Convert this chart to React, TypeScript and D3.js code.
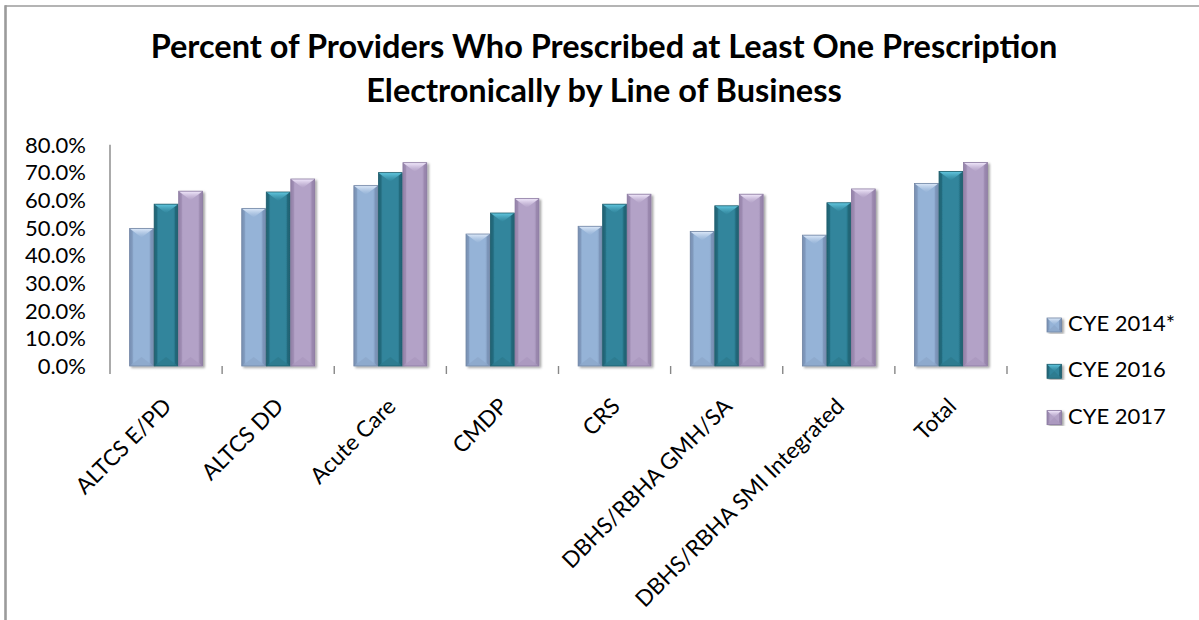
import React from "react";
import * as d3 from "d3";

const categories = [
  "ALTCS E/PD",
  "ALTCS DD",
  "Acute Care",
  "CMDP",
  "CRS",
  "DBHS/RBHA GMH/SA",
  "DBHS/RBHA SMI Integrated",
  "Total",
];
const seriesNames = ["CYE 2014*", "CYE 2016", "CYE 2017"];
const cye2014 = [49.7, 56.9, 65.2, 47.7, 50.5, 48.6, 47.3, 66.0];
const cye2016 = [58.5, 62.9, 69.9, 55.3, 58.5, 57.9, 59.0, 70.3];
const cye2017 = [63.2, 67.6, 73.5, 60.5, 62.1, 62.1, 64.0, 73.6];
const yTicks = [0, 10, 20, 30, 40, 50, 60, 70, 80];
const titleLines = [
  "Percent of Providers Who Prescribed at Least One Prescription",
  "Electronically by Line of Business",
];

const seriesValues = [cye2014, cye2016, cye2017];

// base, edge, top-bevel and bottom-bevel tints per series
const palettes = [
  { base: "#95b3d7", edge: "#7890b3", light: "#dde9f9", dark: "#8aa3c6", stroke: "#7387a6" },
  { base: "#31859c", edge: "#1f6273", light: "#62c8e0", dark: "#2b7689", stroke: "#22606f" },
  { base: "#b3a2c7", edge: "#9583aa", light: "#f3eafd", dark: "#a695bb", stroke: "#8d7ca2" },
];

const W = 1199;
const H = 620;
const plotLeft = 110;
const plotRight = 1007;
const plotTop = 144.7;
const plotBottom = 366;
const FONT = "Lato, 'Noto Sans', sans-serif";

function BevelBar({ x, y, w, h, i }: { x: number; y: number; w: number; h: number; i: number }) {
  const p = palettes[i];
  const d = Math.min(w / 2, 9, h / 2);
  const e = Math.min(3, w / 6);
  return (
    <g filter="url(#barShadow)">
      <rect x={x} y={y} width={w} height={h} fill={`url(#grad${i})`} />
      {/* side edges */}
      <polygon points={`${x},${y} ${x + e},${y + e} ${x + e},${y + h - e} ${x},${y + h}`} fill={p.edge} opacity={0.55} />
      <polygon points={`${x + w},${y} ${x + w - e},${y + e} ${x + w - e},${y + h - e} ${x + w},${y + h}`} fill={p.edge} opacity={0.7} />
      {/* top bevel */}
      <polygon points={`${x},${y} ${x + w},${y} ${x + w / 2},${y + d}`} fill={`url(#top${i})`} />
      {/* bottom bevel */}
      <polygon points={`${x},${y + h} ${x + w},${y + h} ${x + w / 2},${y + h - d}`} fill={p.dark} opacity={0.6} />
      <rect x={x} y={y} width={w} height={h} fill="none" stroke={p.stroke} strokeWidth={0.8} />
    </g>
  );
}

export default function App() {
  const x0 = d3.scaleBand<string>().domain(categories).range([plotLeft, plotRight]).paddingInner(0).paddingOuter(0);
  const x1 = d3
    .scaleBand<string>()
    .domain(seriesNames)
    .range([0, x0.bandwidth()])
    .paddingInner(0.03)
    .paddingOuter(0.8);
  const y = d3.scaleLinear().domain([0, 80]).range([plotBottom, plotTop]);
  const fmt = d3.format(".1f");

  const boundaries = d3.range(categories.length + 1).map((k) => plotLeft + k * x0.step());

  return (
    <div style={{ position: "fixed", left: 0, top: 0, width: W, height: H, background: "#fff" }}>
      <svg width={W} height={H} style={{ display: "block" }}>
        <defs>
          <filter id="barShadow" x="-20%" y="-5%" width="150%" height="115%">
            <feDropShadow dx="2" dy="1.5" stdDeviation="1.2" floodColor="#000" floodOpacity="0.35" />
          </filter>
          <filter id="lineShadow" x="-5%" y="-200%" width="110%" height="500%">
            <feDropShadow dx="0" dy="1" stdDeviation="0.8" floodColor="#000" floodOpacity="0.25" />
          </filter>
          {palettes.map((p, i) => (
            <linearGradient key={"g" + i} id={`grad${i}`} x1="0" x2="1" y1="0" y2="0">
              <stop offset="0" stopColor={p.edge} />
              <stop offset="0.18" stopColor={p.base} />
              <stop offset="0.8" stopColor={p.base} />
              <stop offset="1" stopColor={p.edge} />
            </linearGradient>
          ))}
          {palettes.map((p, i) => (
            <linearGradient key={"t" + i} id={`top${i}`} x1="0" x2="0" y1="0" y2="1">
              <stop offset="0" stopColor={p.light} />
              <stop offset="1" stopColor={p.base} stopOpacity={0.6} />
            </linearGradient>
          ))}
        </defs>

        {/* chart frame */}
        <line x1={5} x2={W} y1={6} y2={6} stroke="#9b9b9b" strokeWidth={1.6} />
        <line x1={5.5} x2={5.5} y1={5.2} y2={H} stroke="#9b9b9b" strokeWidth={2.6} />

        {/* title */}
        <text x={604} y={58} textAnchor="middle" fontFamily={FONT} fontWeight={700} fontSize={32.5} fill="#000">
          {titleLines[0]}
        </text>
        <text x={604} y={102} textAnchor="middle" fontFamily={FONT} fontWeight={700} fontSize={32.5} fill="#000">
          {titleLines[1]}
        </text>

        {/* gridlines and y labels */}
        {yTicks.map((t) => (
          <g key={t}>
            <line
              x1={100}
              x2={plotRight}
              y1={y(t)}
              y2={y(t)}
              stroke="#878787"
              strokeWidth={1.4}
              filter="url(#lineShadow)"
            />
            <text
              x={86}
              y={y(t)}
              dy="0.36em"
              textAnchor="end"
              fontFamily={FONT}
              fontSize={22}
              fill="#000"
            >
              {fmt(t)}%
            </text>
          </g>
        ))}

        {/* axes */}
        <line x1={plotLeft} x2={plotLeft} y1={plotTop} y2={plotBottom} stroke="#878787" strokeWidth={1.4} />
        {boundaries.map((bx, k) => (
          <line key={k} x1={bx} x2={bx} y1={plotBottom} y2={plotBottom + 8} stroke="#878787" strokeWidth={1.4} />
        ))}

        {/* bars */}
        {categories.map((c, ci) => (
          <g key={c}>
            {seriesNames.map((s, si) => {
              const v = seriesValues[si][ci];
              const bx = (x0(c) as number) + (x1(s) as number);
              const by = y(v);
              return <BevelBar key={s} x={bx} y={by} w={x1.bandwidth()} h={plotBottom - by} i={si} />;
            })}
          </g>
        ))}

        {/* category labels */}
        {categories.map((c) => {
          const cx = (x0(c) as number) + x0.bandwidth() / 2;
          return (
            <text
              key={c}
              transform={`translate(${cx + 1},${402}) rotate(-45)`}
              textAnchor="end"
              dy="0.36em"
              fontFamily={FONT}
              fontSize={22.5}
              fill="#000"
            >
              {c}
            </text>
          );
        })}

        {/* legend */}
        {seriesNames.map((s, i) => {
          const ly = 318 + i * 46.3;
          return (
            <g key={s}>
              <BevelBar x={1047} y={ly} w={14.5} h={14} i={i} />
              <text x={1068} y={ly + 13} fontFamily={FONT} fontSize={22} fill="#000">
                {s}
              </text>
            </g>
          );
        })}
      </svg>
    </div>
  );
}
